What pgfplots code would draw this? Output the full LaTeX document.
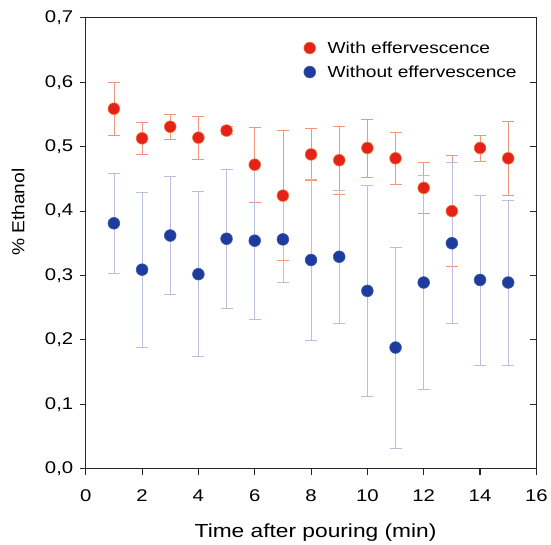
\documentclass[border=0pt]{standalone}
\usepackage{pgfplots}
\usepackage{pgfplotstable}
\pgfplotsset{compat=1.18}
\usepackage{fontspec}
\setmainfont{Liberation Sans}[FakeStretch=1.2]
\newfontfamily\ylfont{Liberation Sans}[FakeStretch=1.1]

\definecolor{redpt}{RGB}{228,34,26}
\definecolor{rededge}{RGB}{242,120,50}
\definecolor{redbar}{RGB}{240,150,125}
\definecolor{bluept}{RGB}{30,60,158}
\definecolor{bluebar}{RGB}{188,188,220}

% time (min), % ethanol, error
\pgfplotstableread{
x y e
1 0.559 0.041
2 0.513 0.025
3 0.531 0.020
4 0.514 0.033
5 0.525 0.006
6 0.472 0.058
7 0.424 0.101
8 0.488 0.040
9 0.479 0.053
10 0.498 0.045
11 0.482 0.040
12 0.436 0.040
13 0.400 0.086
14 0.498 0.020
15 0.482 0.058
}\witheff

\pgfplotstableread{
x y e
1 0.381 0.078
2 0.309 0.120
3 0.362 0.092
4 0.302 0.128
5 0.357 0.108
6 0.354 0.122
7 0.356 0.066
8 0.324 0.125
9 0.329 0.103
10 0.276 0.164
11 0.188 0.156
12 0.289 0.166
13 0.350 0.125
14 0.293 0.132
15 0.289 0.128
}\withouteff

\pgfplotsset{
  base/.style={
    width=452pt, height=452pt, scale only axis,
    xmin=0, xmax=16, ymin=0, ymax=0.7,
    major tick length=6pt,
    axis line style={line width=1.1pt, black!85},
    every tick/.style={line width=1.1pt, black!85},
    /pgf/number format/assume math mode=true,
  },
  ebars/.style={
    error bars/.cd, y dir=both, y explicit,
    error bar style={line width=0.7pt, #1},
    error mark options={rotate=90, #1, line width=0.7pt, mark size=6pt},
  },
}

\begin{document}
\begin{tikzpicture}
\begin{axis}[
  base,
  name=main,
  tick align=outside,
  xtick pos=bottom, ytick pos=left,
  xtick={0,2,...,16},
  ytick={0,0.1,...,0.7},
  ticklabel style={font=\fontsize{17}{20}\selectfont},
  xticklabel style={yshift=-12pt},
  yticklabel style={xshift=-3pt, /pgf/number format/.cd, fixed, fixed zerofill, precision=1, use comma},
  xlabel={Time after pouring (min)},
  xlabel style={font=\fontsize{19}{22}\selectfont, at={(axis description cs:0.51,-0.142)}, anchor=center},
  ylabel={\ylfont \% Ethanol},
  ylabel style={font=\fontsize{17.5}{20}\selectfont, at={(axis description cs:-0.15,0.569)}, anchor=center},
  legend style={at={(axis description cs:0.477,0.957)}, anchor=north west, draw=none, fill=none,
    font=\fontsize{16}{19}\selectfont, row sep=7pt},
  legend cell align=left,
  reverse legend,
]
\addplot[forget plot, draw=none, mark=none, ebars=redbar] table[x=x, y=y, y error=e] {\witheff};
\addplot[forget plot, draw=none, mark=none, ebars=bluebar] table[x=x, y=y, y error=e] {\withouteff};
\addplot[only marks, mark=*, mark size=5.9pt, mark options={fill=bluept, draw=bluept!85!white, line width=0.6pt}]
  table[x=x, y=y] {\withouteff};
\addlegendentry{\hspace*{10pt}Without effervescence}
\addplot[only marks, mark=*, mark size=5.9pt, mark options={fill=redpt, draw=rededge, line width=0.6pt}]
  table[x=x, y=y] {\witheff};
\addlegendentry{\hspace*{10pt}With effervescence}
\end{axis}
\begin{axis}[
  base,
  axis x line=none,
  axis y line*=right,
  tick align=inside,
  ytick={0,0.1,...,0.7},
  yticklabels={},
  xtick=\empty,
]
\end{axis}
\path (main.south west) ++(-86pt,-75pt) coordinate (bbl);
\path (main.north east) ++(13pt,18pt) coordinate (bbr);
\useasboundingbox (bbl) rectangle (bbr);
\end{tikzpicture}
\end{document}
